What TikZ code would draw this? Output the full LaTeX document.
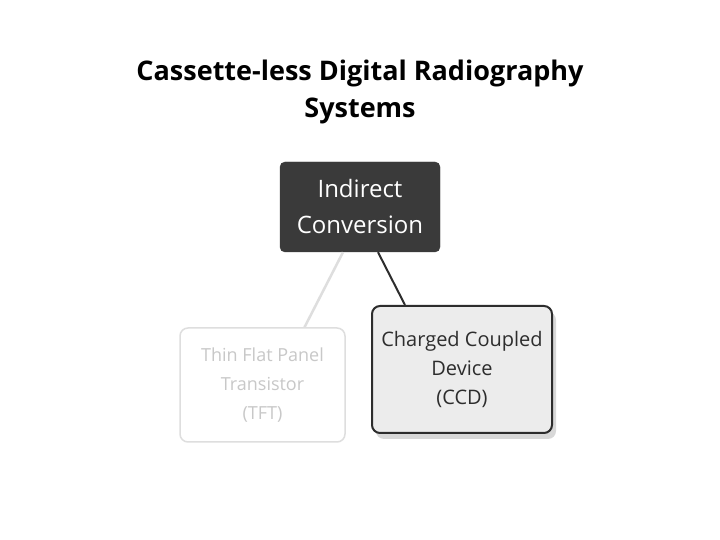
\documentclass[tikz,border=0pt]{standalone}
\usepackage{fontspec}
\setmainfont{Open Sans}
\usepackage{tikz}
\usetikzlibrary{
  positioning,
  shadows
}
\definecolor{radDark}{RGB}{58,58,58}
\definecolor{radFaint}{RGB}{222,222,222}
\definecolor{radFaintText}{RGB}{200,200,200}
\definecolor{radPale}{RGB}{236,236,236}
\definecolor{radEdge}{RGB}{45,45,45}
\tikzset{
  radTitle/.style={
    align=center,
    font=\bfseries\fontsize{27}{37}\selectfont,
    text=black
  },
  radRoot/.style={
    rectangle,
    rounded corners=5pt,
    fill=radDark,
    draw=radDark,
    text=white,
    minimum width=160pt,
    minimum height=90pt,
    align=center,
    font=\fontsize{24}{36}\selectfont
  },
  radDim/.style={
    rectangle,
    rounded corners=8pt,
    draw=radFaint,
    line width=1.5pt,
    fill=white,
    text=radFaintText,
    minimum width=165pt,
    minimum height=114pt,
    align=center,
    font=\fontsize{18}{29}\selectfont
  },
  radActive/.style={
    rectangle,
    rounded corners=8pt,
    draw=radEdge,
    line width=2pt,
    fill=radPale,
    text=radEdge,
    minimum width=180pt,
    minimum height=127pt,
    align=center,
    font=\fontsize{20}{29}\selectfont,
    drop shadow={shadow xshift=4pt, shadow yshift=-6pt, opacity=0.3}
  },
  radDimLink/.style={
    draw=radFaint,
    line width=2.5pt
  },
  radLink/.style={
    draw=radEdge,
    line width=2pt
  }
}

\begin{document}
\begin{tikzpicture}[x=1pt, y=1pt]
  \useasboundingbox[fill=white] (0,0) rectangle (720,540);

  \node[radTitle] (title) at (360,448)
    {Cassette-less Digital Radiography\\Systems};

  \node[radRoot] (indirect) at (360,333)
    {Indirect\\Conversion};

  \node[radDim] (tft) at (262.5,155)
    {Thin Flat Panel\\Transistor\\(TFT)};

  \node[radActive] (ccd) at (462,170.5)
    {Charged Coupled\\Device\\(CCD)};

  \draw[radDimLink] ([xshift=-17pt]indirect.south) -- ([xshift=42pt]tft.north);
  \draw[radLink] ([xshift=18pt]indirect.south) -- ([xshift=-57pt]ccd.north);
\end{tikzpicture}
\end{document}
